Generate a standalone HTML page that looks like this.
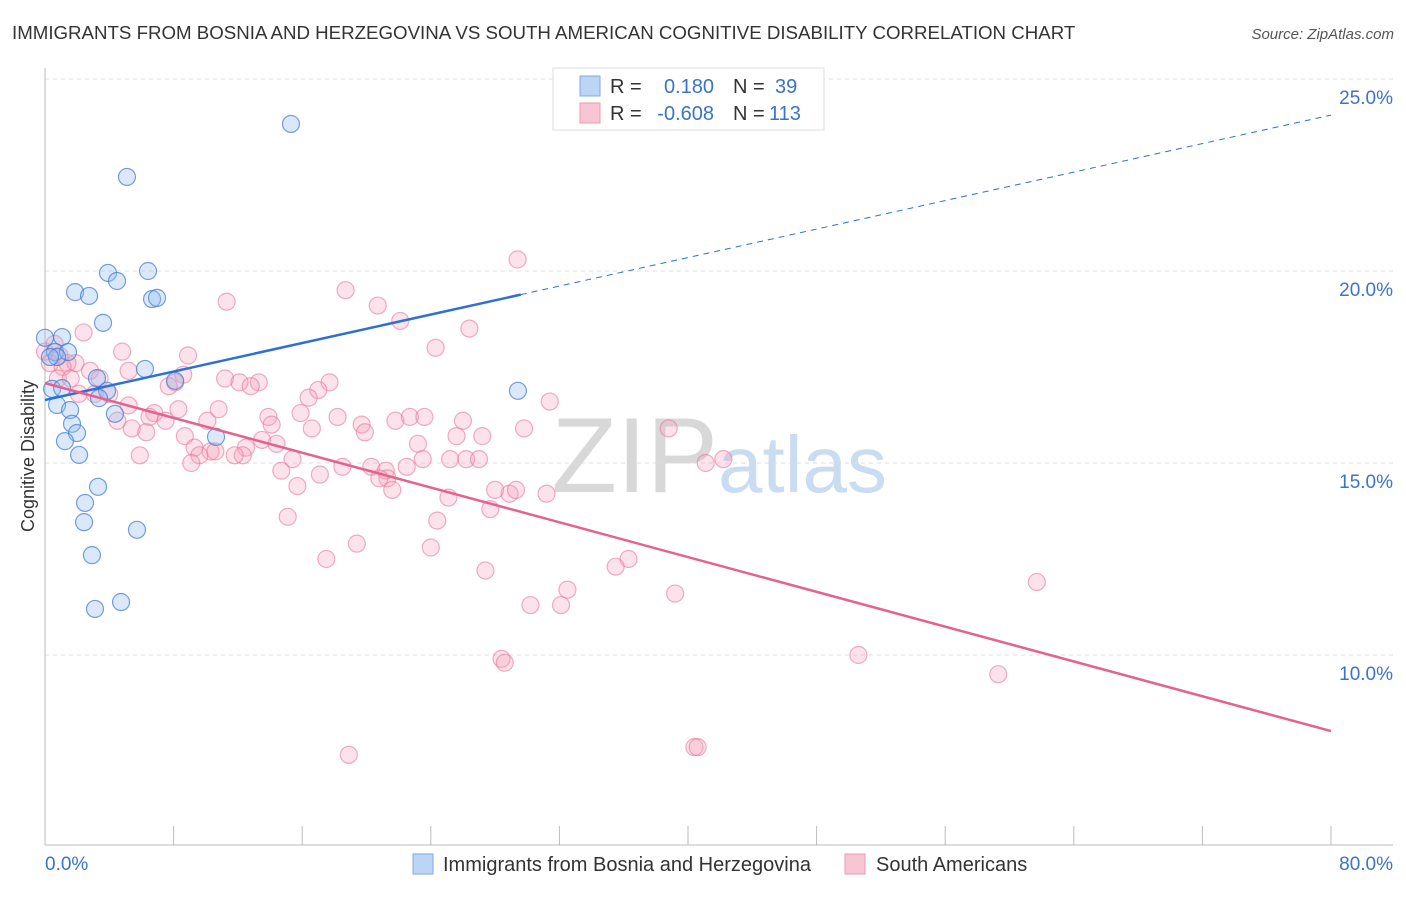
<!DOCTYPE html>
<html><head><meta charset="utf-8"><style>
body{margin:0;background:#fff;font-family:"Liberation Sans",sans-serif;}
svg text{font-family:"Liberation Sans",sans-serif;}
</style></head><body>
<svg id="chart" width="1406" height="892" xmlns="http://www.w3.org/2000/svg">
<text x="12" y="39" font-size="18.7" fill="#333">IMMIGRANTS FROM BOSNIA AND HERZEGOVINA VS SOUTH AMERICAN COGNITIVE DISABILITY CORRELATION CHART</text>
<text x="1394" y="39" font-size="15" fill="#555" font-style="italic" text-anchor="end">Source: ZipAtlas.com</text>
<text x="718" y="492" font-size="107" fill="#d8d8d8" text-anchor="end" font-family="Liberation Serif">ZIP</text>
<text x="718" y="492" font-size="80" fill="#c9dcf2">atlas</text>
<g id="grid"></g><g id="axes"></g><g id="pts"></g><g id="lines"></g>
<text x="34" y="456" font-size="18" fill="#333" text-anchor="middle" transform="rotate(-90 34 456)">Cognitive Disability</text>
<g>
<rect x="553" y="68" width="271" height="62" fill="#fff" stroke="#ddd"/>
<rect x="580" y="76" width="20" height="20" fill="#bcd5f5" stroke="#7ea9e5"/>
<rect x="580" y="103" width="20" height="20" fill="#f8c5d5" stroke="#ee9ab4"/>
<text x="610" y="93" font-size="20" fill="#333">R =</text>
<text x="714" y="93" font-size="20" fill="#3a73c9" text-anchor="end">0.180</text>
<text x="733" y="93" font-size="20" fill="#333">N =</text>
<text x="775" y="93" font-size="20" fill="#3a73c9">39</text>
<text x="610" y="120" font-size="20" fill="#333">R =</text>
<text x="714" y="120" font-size="20" fill="#3a73c9" text-anchor="end">-0.608</text>
<text x="733" y="120" font-size="20" fill="#333">N =</text>
<text x="769" y="120" font-size="20" fill="#3a73c9">113</text>
</g>
<g>
<rect x="413" y="854" width="20" height="20" fill="#bcd5f5" stroke="#7ea9e5"/>
<text x="443" y="871" font-size="20" fill="#333">Immigrants from Bosnia and Herzegovina</text>
<rect x="845" y="854" width="20" height="20" fill="#f8c5d5" stroke="#ee9ab4"/>
<text x="876" y="871" font-size="20" fill="#333">South Americans</text>
</g>
</svg>
<script>
const yTicks=[10,15,20,25];
const xTickLabels=["0.0%","80.0%"];
const blueX=[15.30,5.10,3.92,6.41,4.48,1.87,2.74,6.66,6.97,3.61,0.0,1.06,0.62,1.43,0.75,0.31,6.22,8.09,3.23,0.44,1.06,3.86,3.36,0.75,1.56,4.35,1.68,1.99,1.24,10.64,2.12,29.42,3.30,2.49,2.43,5.72,2.92,4.73,3.11];
const blueY=[23.83,22.45,19.95,20.0,19.74,19.45,19.35,19.27,19.30,18.65,18.26,18.28,17.89,17.89,17.76,17.76,17.45,17.14,17.21,16.93,16.95,16.88,16.69,16.51,16.38,16.28,16.02,15.78,15.57,15.68,15.21,16.88,14.38,13.96,13.46,13.26,12.60,11.38,11.20];
const pinkX=[29.4,18.7,11.3,20.7,22.1,26.4,2.4,24.3,8.9,4.8,0.0,0.6,0.9,1.4,1.9,0.3,1.1,0.8,1.6,2.8,3.4,5.2,4.0,2.1,3.1,11.2,12.1,13.3,12.8,17.7,17.0,16.4,8.6,8.1,7.7,5.2,6.8,8.3,10.8,15.9,13.9,14.1,18.2,19.7,21.8,22.7,23.6,26.0,31.4,29.8,38.8,4.5,6.5,7.5,10.1,5.4,6.3,8.7,13.5,12.5,12.3,14.4,16.6,19.9,23.2,25.6,27.2,9.3,10.3,9.6,10.6,11.8,5.9,9.1,15.4,14.7,17.1,18.5,20.3,21.2,22.5,21.3,23.5,25.2,26.2,27.0,20.8,15.7,21.6,25.1,28.0,28.9,29.3,41.1,42.2,31.2,27.7,24.4,15.1,19.4,17.5,24.0,36.3,35.5,27.4,32.5,61.7,39.2,30.2,32.1,28.4,28.6,50.6,59.3,18.9,40.4,40.6];
const pinkY=[20.3,19.5,19.2,19.1,18.7,18.5,18.4,18.0,17.8,17.9,17.9,18.1,17.8,17.6,17.6,17.6,17.5,17.2,17.2,17.4,17.2,17.4,16.8,16.8,16.8,17.2,17.1,17.1,17.0,17.1,16.9,16.7,17.3,17.1,17.0,16.5,16.3,16.4,16.4,16.3,16.2,16.0,16.2,16.0,16.1,16.2,16.2,16.1,16.6,15.9,15.9,16.1,16.2,16.1,16.1,15.9,15.8,15.7,15.6,15.4,15.2,15.5,15.9,15.8,15.5,15.7,15.7,15.4,15.3,15.2,15.3,15.2,15.2,15.0,15.1,14.8,14.7,14.9,14.9,14.8,14.9,14.6,15.1,15.1,15.1,15.1,14.6,14.4,14.3,14.1,14.3,14.2,14.3,15.0,15.1,14.2,13.8,13.5,13.6,12.9,12.5,12.8,12.5,12.3,12.2,11.7,11.9,11.6,11.3,11.3,9.9,9.8,10.0,9.5,7.4,7.6,7.6];
const blueTrend=[16.64,24.06];
const blueSolidEnd=29.6;
const pinkTrend=[17.08,8.02];
const NS="http://www.w3.org/2000/svg";
const sx=v=>45+v*16.075;
const sy=v=>655-(v-10)*38.4;
function mk(tag,attrs,parent){const e=document.createElementNS(NS,tag);for(const k in attrs)e.setAttribute(k,attrs[k]);document.getElementById(parent).appendChild(e);return e;}
yTicks.forEach(t=>{
  const g=mk('line',{x1:45,x2:1393,y1:sy(t),y2:sy(t),stroke:'#ddd','stroke-dasharray':'4,4'},'grid');
  
  
  const tx=mk('text',{x:1393,y:sy(t)+25,'font-size':19,fill:'#3a73c9','text-anchor':'end'},'grid');
  tx.textContent=t.toFixed(1)+'%';
  
  
});
const ax=mk('line',{x1:45,x2:1393,y1:845,y2:845,stroke:'#bbb'},'axes');


const ay=mk('line',{x1:45,x2:45,y1:68,y2:845,stroke:'#bbb'},'axes');


for(let i=0;i<=10;i++){const t=mk('line',{x1:sx(i*8),x2:sx(i*8),y1:826,y2:845,stroke:'#bbb'},'axes');
  
  }
[[0,'start',45],[80,'end',1393]].forEach((d,i)=>{const t=mk('text',{x:d[2],y:870,'font-size':19,fill:'#3a73c9','text-anchor':d[1]},'axes');t.textContent=xTickLabels[i];
  
  });
pinkX.forEach((x,i)=>{const c=mk('circle',{cx:sx(x),cy:sy(pinkY[i]),r:8.5,fill:'rgba(244,160,185,0.3)',stroke:'rgba(232,120,155,0.6)','stroke-width':1.2},'pts');
  
  });
blueX.forEach((x,i)=>{const c=mk('circle',{cx:sx(x),cy:sy(blueY[i]),r:8.5,fill:'rgba(150,190,240,0.35)',stroke:'rgba(60,120,210,0.7)','stroke-width':1.2},'pts');
  
  });
const by=x=>blueTrend[0]+(blueTrend[1]-blueTrend[0])*x/80;
const l1=mk('line',{x1:sx(0),y1:sy(by(0)),x2:sx(blueSolidEnd),y2:sy(by(blueSolidEnd)),stroke:'#2d6fd6','stroke-width':2.5},'lines');


const l2=mk('line',{x1:sx(blueSolidEnd),y1:sy(by(blueSolidEnd)),x2:sx(80),y2:sy(by(80)),stroke:'#2d6fd6','stroke-width':1,'stroke-dasharray':'6,5'},'lines');


const l3=mk('line',{x1:sx(0),y1:sy(pinkTrend[0]),x2:sx(80),y2:sy(pinkTrend[1]),stroke:'#e5628f','stroke-width':2.5},'lines');


</script>
</body></html>
